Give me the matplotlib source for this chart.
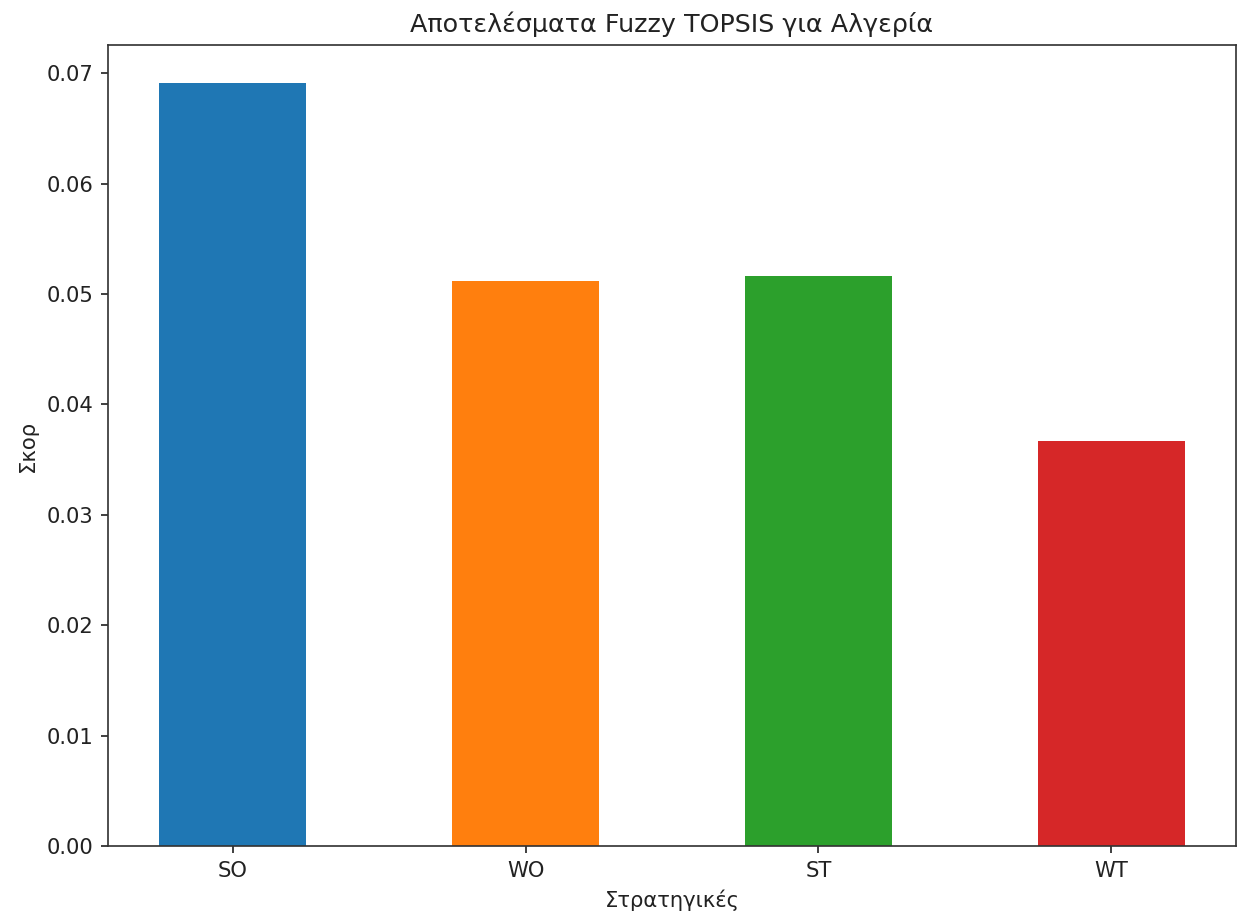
import matplotlib
matplotlib.use("Agg")
import matplotlib.pyplot as plt

categories = ["SO", "WO", "ST", "WT"]
scores = [0.0691, 0.0512, 0.0516, 0.0367]
colors = ["#1f77b4", "#ff7f0e", "#2ca02c", "#d62728"]

S = 1.52
fig = plt.figure(figsize=(12.37, 9.21), dpi=100)
ax = fig.add_axes([108/1237, 1 - 846/921, (1236-108)/1237, (846-45)/921])
x = list(range(len(categories)))
ax.bar(x, scores, width=0.5, color=colors)
ax.set_xticks(x)
ax.set_xticklabels(categories, rotation=0)
ax.tick_params(labelsize=10*S, length=3.5*S, width=0.8*S, pad=3.5*S, colors="#222222", labelcolor="#222222")
ax.set_title("Αποτελέσματα Fuzzy TOPSIS για Αλγερία", fontsize=12*S, pad=6*S, color="#222222")
ax.set_xlabel("Στρατηγικές", fontsize=10*S, labelpad=4*S, color="#222222")
ax.set_ylabel("Σκορ", fontsize=10*S, labelpad=4*S, color="#222222")
for s in ax.spines.values():
    s.set_linewidth(0.8*S)
    s.set_color("#333333")
fig.savefig("out.png", dpi=100)
